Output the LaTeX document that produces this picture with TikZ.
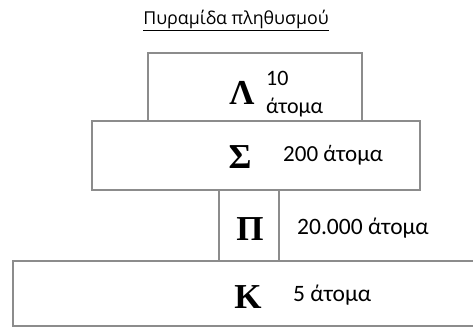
\documentclass[tikz,border=0pt]{standalone}
\usepackage{fontspec}
\setmainfont{Carlito}
\newfontfamily\titlefont{Open Sans}
\newfontfamily\letterfont{Liberation Serif}
\begin{document}
\begin{tikzpicture}[x=1pt,y=-1pt,
  layer/.style={draw=gray!90, line width=1.6pt, fill=white, inner sep=0pt},
  sym/.style={font=\letterfont\fontsize{35}{35}\selectfont\bfseries, inner sep=0pt},
  count/.style={font=\fontsize{23.5}{26}\selectfont, inner sep=0pt, anchor=west}]
  \useasboundingbox (0,0) rectangle (473,327);
  \clip (0,0) rectangle (473,327);

  % title
  \node[font=\titlefont\fontsize{17.8}{20}\selectfont, inner sep=0pt] (title) at (236,20)
    {\underline{Πυραμίδα πληθυσμού}};

  % pyramid layers, top to bottom
  \node[layer, minimum width=214, minimum height=68] (L) at (255,87) {};
  \node[layer, minimum width=328, minimum height=69] (S) at (256,155.5) {};
  \node[layer, minimum width=60, minimum height=71] (P) at (249,225.5) {};
  \node[layer, minimum width=477, minimum height=65] (K) at (251.5,293.5) {};

  % layer symbols
  \node[sym] (Lsym) at (242,93) {Λ};
  \node[sym] (Ssym) at (240,157) {Σ};
  \node[sym] (Psym) at (250,229) {Π};
  \node[sym] (Ksym) at (248,297) {K};

  % population counts
  \node[count, align=left, font=\fontsize{22}{28}\selectfont] (Lcnt) at (266,94) {10\\άτομα};
  \node[count, font=\fontsize{23}{26}\selectfont] (Scnt) at (283,155) {200 άτομα};
  \node[count] (Pcnt) at (297,228) {20.000 άτομα};
  \node[count] (Kcnt) at (293,295) {5 άτομα};
\end{tikzpicture}
\end{document}
